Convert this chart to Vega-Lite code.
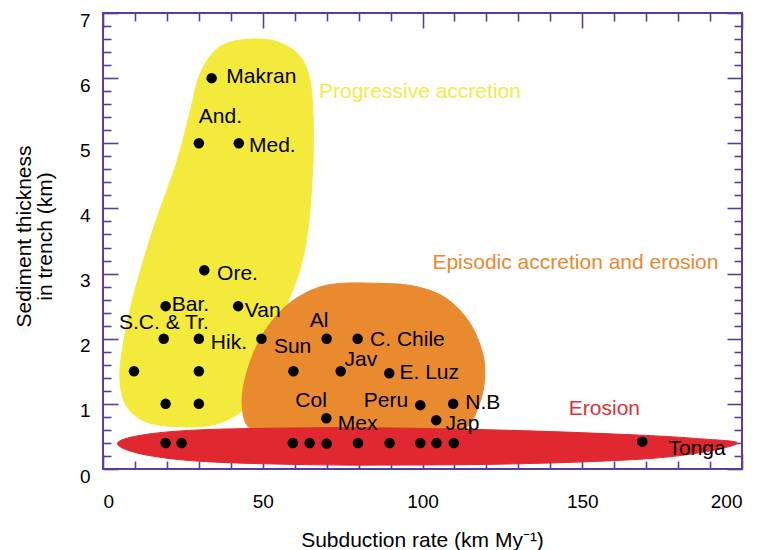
{
  "$schema": "https://vega.github.io/schema/vega-lite/v6.json",
  "width": 639,
  "height": 456,
  "autosize": {"type": "none"},
  "padding": {"left": 103, "top": 13, "right": 15, "bottom": 81},
  "background": "white",
  "config": {
    "font": "Liberation Sans",
    "view": {"stroke": "#5b3c9e", "strokeWidth": 2},
    "axis": {"domain": false, "grid": false, "tickColor": "#5b3c9e", "tickWidth": 1.6, "labelColor": "black", "titleColor": "black", "labelFont": "Liberation Sans", "titleFont": "Liberation Sans", "titleFontWeight": "normal"}
  },
  "datasets": {
    "blobs": [
      {"g": "yellow", "i": 0, "x": 46, "y": 6.6},
      {"g": "yellow", "i": 1, "x": 55, "y": 6.55},
      {"g": "yellow", "i": 2, "x": 61.6, "y": 6.34},
      {"g": "yellow", "i": 3, "x": 64.7, "y": 5.98},
      {"g": "yellow", "i": 4, "x": 65.7, "y": 5.45},
      {"g": "yellow", "i": 5, "x": 65.7, "y": 4.7},
      {"g": "yellow", "i": 6, "x": 64.2, "y": 3.7},
      {"g": "yellow", "i": 7, "x": 61.6, "y": 3.06},
      {"g": "yellow", "i": 8, "x": 57.4, "y": 2.5},
      {"g": "yellow", "i": 9, "x": 52, "y": 1.75},
      {"g": "yellow", "i": 10, "x": 46, "y": 1.05},
      {"g": "yellow", "i": 11, "x": 40, "y": 0.78},
      {"g": "yellow", "i": 12, "x": 30.3, "y": 0.65},
      {"g": "yellow", "i": 13, "x": 15, "y": 0.7},
      {"g": "yellow", "i": 14, "x": 7.6, "y": 0.95},
      {"g": "yellow", "i": 15, "x": 5.3, "y": 1.37},
      {"g": "yellow", "i": 16, "x": 6.3, "y": 1.9},
      {"g": "yellow", "i": 17, "x": 9.5, "y": 2.65},
      {"g": "yellow", "i": 18, "x": 15.7, "y": 3.68},
      {"g": "yellow", "i": 19, "x": 23, "y": 4.7},
      {"g": "yellow", "i": 20, "x": 27.2, "y": 5.47},
      {"g": "yellow", "i": 21, "x": 30.5, "y": 6.08},
      {"g": "yellow", "i": 22, "x": 36.5, "y": 6.48},
      {"g": "orange", "i": 0, "x": 70.9, "y": 2.83},
      {"g": "orange", "i": 1, "x": 86.6, "y": 2.85},
      {"g": "orange", "i": 2, "x": 98, "y": 2.8},
      {"g": "orange", "i": 3, "x": 107.4, "y": 2.62},
      {"g": "orange", "i": 4, "x": 114.7, "y": 2.25},
      {"g": "orange", "i": 5, "x": 118.8, "y": 1.78},
      {"g": "orange", "i": 6, "x": 119.4, "y": 1.37},
      {"g": "orange", "i": 7, "x": 117.8, "y": 1.0},
      {"g": "orange", "i": 8, "x": 114, "y": 0.65},
      {"g": "orange", "i": 9, "x": 105, "y": 0.45},
      {"g": "orange", "i": 10, "x": 80, "y": 0.4},
      {"g": "orange", "i": 11, "x": 55, "y": 0.45},
      {"g": "orange", "i": 12, "x": 46, "y": 0.62},
      {"g": "orange", "i": 13, "x": 43.6, "y": 0.95},
      {"g": "orange", "i": 14, "x": 44.4, "y": 1.37},
      {"g": "orange", "i": 15, "x": 48, "y": 1.88},
      {"g": "orange", "i": 16, "x": 53.2, "y": 2.29},
      {"g": "orange", "i": 17, "x": 60.5, "y": 2.62},
      {"g": "red", "i": 0, "x": 4.5, "y": 0.39},
      {"g": "red", "i": 1, "x": 12, "y": 0.52},
      {"g": "red", "i": 2, "x": 30, "y": 0.6},
      {"g": "red", "i": 3, "x": 60, "y": 0.63},
      {"g": "red", "i": 4, "x": 90, "y": 0.63},
      {"g": "red", "i": 5, "x": 130, "y": 0.59},
      {"g": "red", "i": 6, "x": 168, "y": 0.52},
      {"g": "red", "i": 7, "x": 188, "y": 0.46},
      {"g": "red", "i": 8, "x": 198.5, "y": 0.4},
      {"g": "red", "i": 9, "x": 188, "y": 0.26},
      {"g": "red", "i": 10, "x": 168, "y": 0.15},
      {"g": "red", "i": 11, "x": 130, "y": 0.08},
      {"g": "red", "i": 12, "x": 90, "y": 0.06},
      {"g": "red", "i": 13, "x": 60, "y": 0.07},
      {"g": "red", "i": 14, "x": 30, "y": 0.12},
      {"g": "red", "i": 15, "x": 12, "y": 0.23}
    ],
    "pts": [
      {"x": 34, "y": 6}, {"x": 30, "y": 5}, {"x": 42.5, "y": 5}, {"x": 31.7, "y": 3.05},
      {"x": 19.6, "y": 2.5}, {"x": 42.3, "y": 2.5}, {"x": 19, "y": 2.0}, {"x": 30, "y": 2.0},
      {"x": 49.6, "y": 2.0}, {"x": 9.7, "y": 1.5}, {"x": 30, "y": 1.5}, {"x": 19.6, "y": 1.0},
      {"x": 30, "y": 1.0},
      {"x": 70, "y": 2.0}, {"x": 79.7, "y": 2.0}, {"x": 59.6, "y": 1.5}, {"x": 74.4, "y": 1.5},
      {"x": 89.6, "y": 1.47}, {"x": 69.9, "y": 0.78}, {"x": 99.3, "y": 0.98}, {"x": 109.6, "y": 1.0},
      {"x": 104.3, "y": 0.75},
      {"x": 19.6, "y": 0.4}, {"x": 24.6, "y": 0.4}, {"x": 59.4, "y": 0.4}, {"x": 64.7, "y": 0.4},
      {"x": 70, "y": 0.39}, {"x": 79.8, "y": 0.4}, {"x": 89.7, "y": 0.4}, {"x": 99.3, "y": 0.4},
      {"x": 104.4, "y": 0.4}, {"x": 109.8, "y": 0.4}, {"x": 168.8, "y": 0.42}
    ],
    "labels": [
      {"t": "Makran", "x": 38.6, "y": 6.01},
      {"t": "And.", "x": 30, "y": 5.41},
      {"t": "Med.", "x": 45.7, "y": 4.96},
      {"t": "Ore.", "x": 35.7, "y": 2.99},
      {"t": "Bar.", "x": 21.5, "y": 2.51},
      {"t": "Van", "x": 44.4, "y": 2.42},
      {"t": "S.C. & Tr.", "x": 5.0, "y": 2.24},
      {"t": "Hik.", "x": 33.75, "y": 1.93},
      {"t": "Sun", "x": 53.5, "y": 1.87},
      {"t": "Al", "x": 64.7, "y": 2.27},
      {"t": "C. Chile", "x": 83.6, "y": 1.98},
      {"t": "Jav", "x": 75.6, "y": 1.67},
      {"t": "E. Luz", "x": 92.8, "y": 1.47},
      {"t": "Col", "x": 60.2, "y": 1.05},
      {"t": "Peru", "x": 81.6, "y": 1.04},
      {"t": "N.B", "x": 113.4, "y": 1.01},
      {"t": "Mex", "x": 73.5, "y": 0.69},
      {"t": "Jap", "x": 107.2, "y": 0.69},
      {"t": "Tonga", "x": 177, "y": 0.31}
    ],
    "notes": [
      {"t": "Progressive accretion", "x": 67.6, "y": 5.78},
      {"t": "Episodic accretion and erosion", "x": 103.1, "y": 3.16},
      {"t": "Erosion", "x": 145.8, "y": 0.92}
    ]
  },
  "resolve": {"axis": {"x": "independent", "y": "independent"}},
  "layer": [
    {
      "data": {"name": "blobs"},
      "transform": [{"filter": "datum.g === 'yellow'"}],
      "mark": {"type": "line", "interpolate": "cardinal-closed", "filled": true, "fill": "#f4ea3c", "stroke": "#f4ea3c", "strokeWidth": 1},
      "encoding": {
        "x": {"field": "x", "type": "quantitative", "scale": {"domain": [0, 200], "nice": false},
          "axis": {"orient": "bottom", "values": [0, 50, 100, 150, 200], "tickSize": -15, "labelPadding": 53, "labelFontSize": 19, "labelBaseline": "alphabetic",
            "title": "Subduction rate (km My⁻¹)", "titleFontSize": 21, "titleX": 319, "titleY": 77, "titleBaseline": "alphabetic", "titleAnchor": null}},
        "y": {"field": "y", "type": "quantitative", "scale": {"domain": [0, 7], "nice": false},
          "axis": {"orient": "left", "values": [0, 1, 2, 3, 4, 5, 6, 7], "tickSize": -15, "labelPadding": 28, "labelFontSize": 19, "labelOffset": 7,
            "title": ["Sediment thickness", "in trench (km)"], "titleFontSize": 21, "titleLineHeight": 21, "titleAngle": -90, "titleX": -79, "titleY": 223, "titleAlign": "center", "titleBaseline": "middle"}},
        "order": {"field": "i", "type": "quantitative"}
      }
    },
    {
      "data": {"name": "blobs"},
      "transform": [{"filter": "datum.g === 'orange'"}],
      "mark": {"type": "line", "interpolate": "cardinal-closed", "filled": true, "fill": "#e98a2e", "stroke": "#e98a2e", "strokeWidth": 1},
      "encoding": {
        "x": {"field": "x", "type": "quantitative", "scale": {"domain": [0, 200], "nice": false},
          "axis": {"orient": "bottom", "values": [10, 20, 30, 40, 60, 70, 80, 90, 110, 120, 130, 140, 160, 170, 180, 190], "tickSize": -8, "labels": false, "title": null}},
        "y": {"field": "y", "type": "quantitative", "scale": {"domain": [0, 7], "nice": false},
          "axis": {"orient": "left", "values": [0.2, 0.4, 0.6, 0.8, 1.2, 1.4, 1.6, 1.8, 2.2, 2.4, 2.6, 2.8, 3.2, 3.4, 3.6, 3.8, 4.2, 4.4, 4.6, 4.8, 5.2, 5.4, 5.6, 5.8, 6.2, 6.4, 6.6, 6.8], "tickSize": -8, "labels": false, "title": null}},
        "order": {"field": "i", "type": "quantitative"}
      }
    },
    {
      "data": {"name": "blobs"},
      "transform": [{"filter": "datum.g === 'red'"}],
      "mark": {"type": "line", "interpolate": "cardinal-closed", "filled": true, "fill": "#e1272f", "stroke": "#e1272f", "strokeWidth": 1},
      "encoding": {
        "x": {"field": "x", "type": "quantitative", "scale": {"domain": [0, 200], "nice": false},
          "axis": {"orient": "top", "values": [0, 50, 100, 150, 200], "tickSize": -15, "labels": false, "title": null}},
        "y": {"field": "y", "type": "quantitative", "scale": {"domain": [0, 7], "nice": false},
          "axis": {"orient": "right", "values": [0, 1, 2, 3, 4, 5, 6, 7], "tickSize": -15, "labels": false, "title": null}},
        "order": {"field": "i", "type": "quantitative"}
      }
    },
    {
      "data": {"name": "pts"},
      "mark": {"type": "circle", "color": "black", "size": 110, "opacity": 1},
      "encoding": {
        "x": {"field": "x", "type": "quantitative", "scale": {"domain": [0, 200], "nice": false},
          "axis": {"orient": "top", "values": [10, 20, 30, 40, 60, 70, 80, 90, 110, 120, 130, 140, 160, 170, 180, 190], "tickSize": -8, "labels": false, "title": null}},
        "y": {"field": "y", "type": "quantitative", "scale": {"domain": [0, 7], "nice": false},
          "axis": {"orient": "right", "values": [0.2, 0.4, 0.6, 0.8, 1.2, 1.4, 1.6, 1.8, 2.2, 2.4, 2.6, 2.8, 3.2, 3.4, 3.6, 3.8, 4.2, 4.4, 4.6, 4.8, 5.2, 5.4, 5.6, 5.8, 6.2, 6.4, 6.6, 6.8], "tickSize": -8, "labels": false, "title": null}}
      }
    },
    {
      "data": {"name": "labels"},
      "mark": {"type": "text", "align": "left", "baseline": "middle", "fontSize": 21, "color": "black"},
      "encoding": {
        "x": {"field": "x", "type": "quantitative", "axis": null},
        "y": {"field": "y", "type": "quantitative", "axis": null},
        "text": {"field": "t"}
      }
    },
    {
      "data": {"name": "notes"},
      "mark": {"type": "text", "align": "left", "baseline": "middle", "fontSize": 21},
      "encoding": {
        "x": {"field": "x", "type": "quantitative", "axis": null},
        "y": {"field": "y", "type": "quantitative", "axis": null},
        "text": {"field": "t"},
        "color": {"field": "t", "type": "nominal", "legend": null,
          "scale": {"domain": ["Progressive accretion", "Episodic accretion and erosion", "Erosion"], "range": ["#f3e94a", "#e8892f", "#e0303a"]}}
      }
    }
  ]
}
